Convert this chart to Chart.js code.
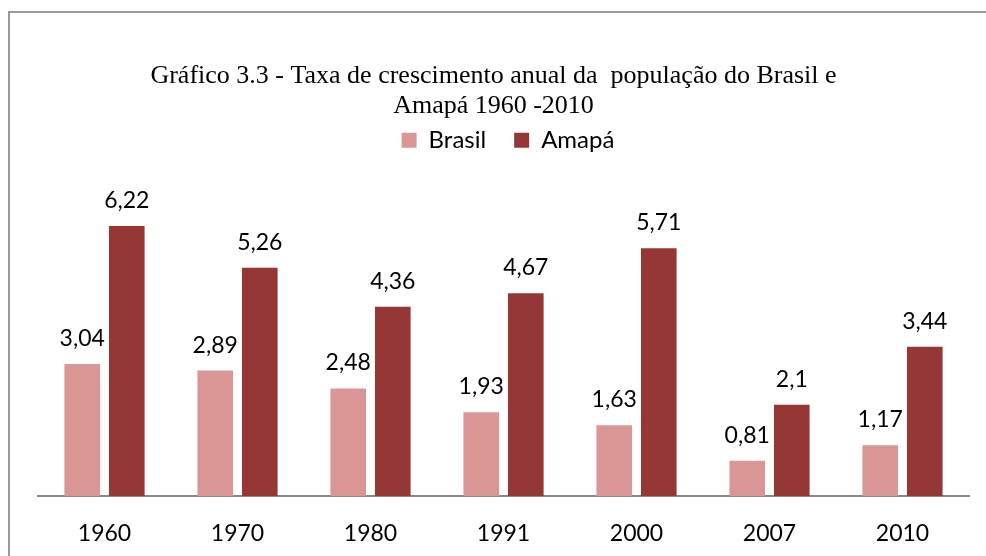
<!DOCTYPE html>
<html>
<head>
<meta charset="utf-8">
<script src="https://cdn.jsdelivr.net/npm/chart.js@4/dist/chart.umd.min.js"></script>
<style>
  html, body { margin: 0; padding: 0; background: #fff; }
  #wrap { position: relative; width: 986px; height: 556px; overflow: hidden; }
  #frame {
    position: absolute; left: 8px; top: 11px; width: 1000px; height: 600px;
    border-left: 2px solid #9a9a9a; border-top: 2px solid #9a9a9a;
    pointer-events: none;
  }
  canvas { position: absolute; left: 0; top: 0; }
</style>
</head>
<body>
<div id="wrap">
  <canvas id="chart" width="986" height="556"></canvas>
  <div id="frame"></div>
</div>
<script>
/* chart data */
const years = ['1960', '1970', '1980', '1991', '2000', '2007', '2010'];
const brasil = [3.04, 2.89, 2.48, 1.93, 1.63, 0.81, 1.17];
const amapa = [6.22, 5.26, 4.36, 4.67, 5.71, 2.1, 3.44];

const titleLines = [
  'Gráfico 3.3 - Taxa de crescimento anual da  população do Brasil e',
  'Amapá 1960 -2010'
];

const labelFont = 'Lato, "Open Sans", sans-serif';

// value labels above every bar
const barValues = {
  id: 'barValues',
  afterDatasetsDraw(chart) {
    const ctx = chart.ctx;
    ctx.save();
    ctx.font = '23px ' + labelFont;
    ctx.fillStyle = '#000';
    ctx.textAlign = 'center';
    ctx.textBaseline = 'alphabetic';
    chart.data.datasets.forEach((ds, i) => {
      chart.getDatasetMeta(i).data.forEach((bar, j) => {
        const txt = String(ds.data[j]).replace('.', ',');
        ctx.fillText(txt, bar.x, bar.y - 18);
      });
    });
    ctx.restore();
  }
};

// extra room between legend and plot
const legendGap = {
  id: 'legendGap',
  beforeInit(chart) {
    const fit = chart.legend.fit;
    chart.legend.fit = function () {
      fit.bind(chart.legend)();
      this.height += 30;
    };
  }
};

// title sits a bit left of the plot centre, legend a bit right
const nudge = {
  id: 'nudge',
  afterLayout(chart) {
    if (chart.titleBlock) chart.titleBlock.left -= 20;
    if (chart.legend) chart.legend.left += 9;
  }
};

new Chart(document.getElementById('chart'), {
  type: 'bar',
  data: {
    labels: years,
    datasets: [
      { label: 'Brasil', data: brasil, backgroundColor: '#d99694' },
      { label: 'Amapá', data: amapa, backgroundColor: '#953735' }
    ]
  },
  options: {
    responsive: false,
    animation: false,
    layout: { padding: { left: 38, right: 17, top: 62, bottom: 14 } },
    datasets: { bar: { categoryPercentage: 0.67, barPercentage: 0.8 } },
    scales: {
      x: {
        grid: { display: false, drawTicks: false },
        border: { color: '#888', width: 2 },
        ticks: { color: '#000', padding: 24, font: { family: labelFont, size: 23 } },
        afterFit(scale) { scale.height = 46; }
      },
      y: { display: false, min: 0, max: 7 }
    },
    plugins: {
      title: {
        display: true,
        text: titleLines,
        color: '#000',
        padding: { top: 0, bottom: -20 },
        font: { family: '"Liberation Serif", "Times New Roman", serif', size: 26, weight: 'normal', lineHeight: 1.12 }
      },
      legend: {
        position: 'top',
        labels: {
          color: '#000',
          boxWidth: 15,
          boxHeight: 15,
          padding: 28,
          font: { family: labelFont, size: 24 }
        }
      },
      tooltip: { enabled: false }
    }
  },
  plugins: [barValues, legendGap, nudge]
});
</script>
</body>
</html>
